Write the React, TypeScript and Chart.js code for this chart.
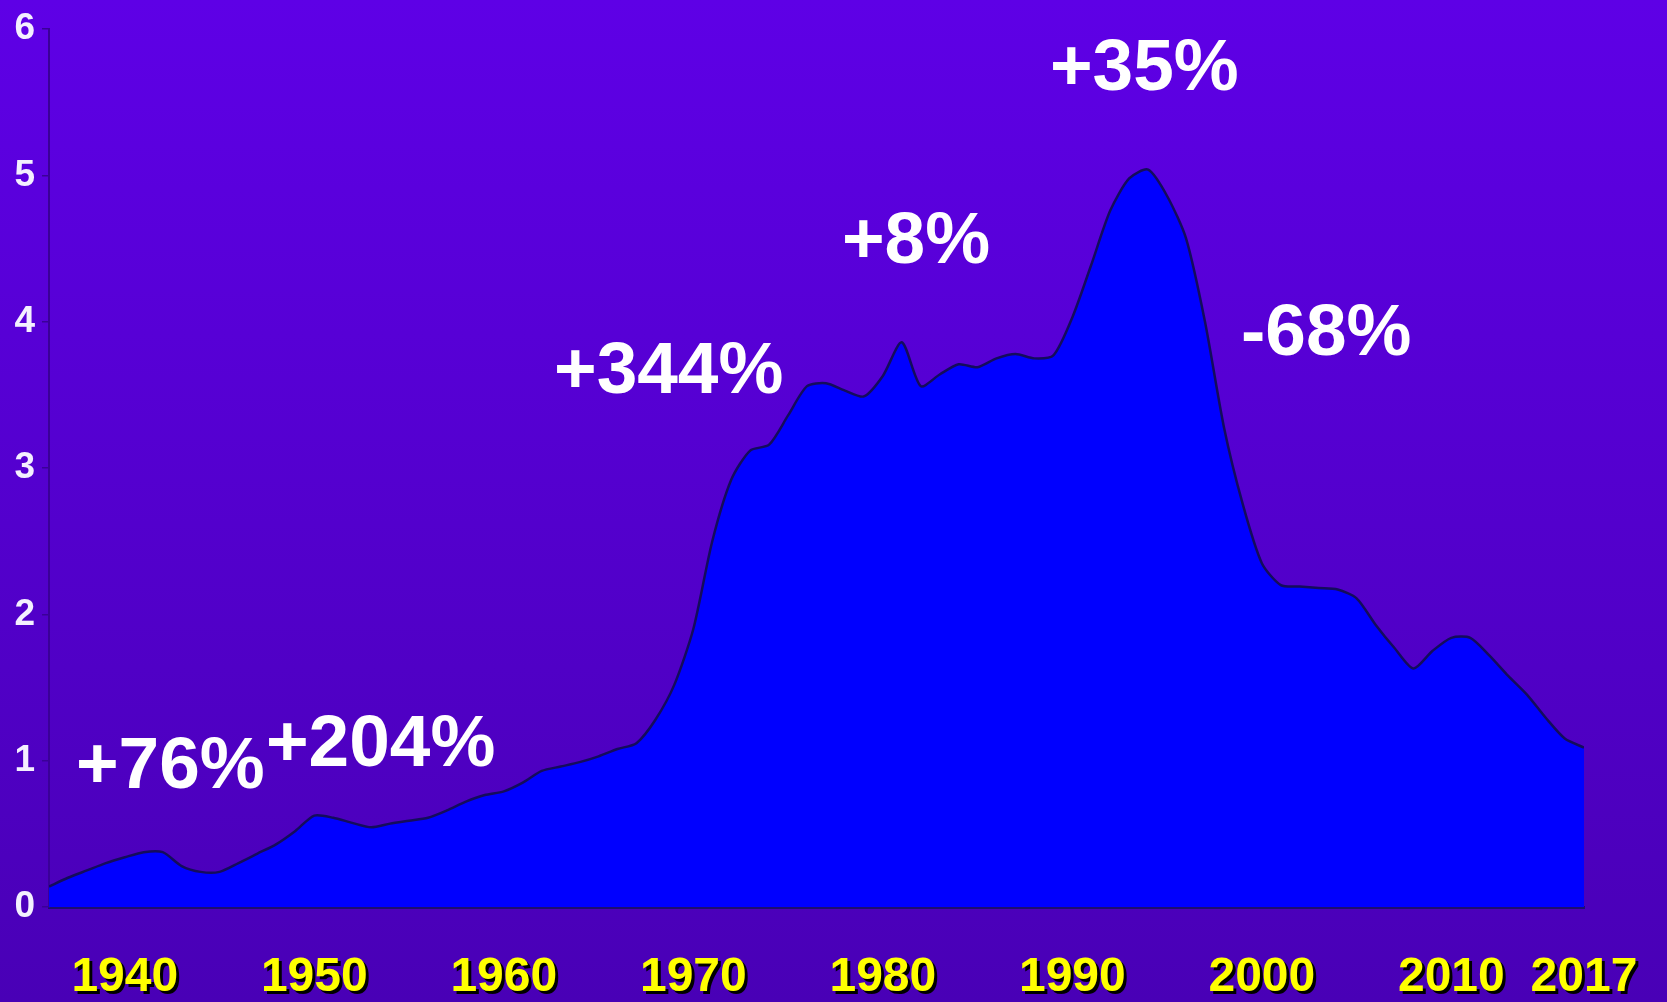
import { useEffect, useRef } from "react";
import { Chart, registerables } from "chart.js";

Chart.register(...registerables);

const years = [
  1936, 1937, 1938, 1939, 1940, 1941, 1942, 1943, 1944, 1945,
  1946, 1947, 1948, 1949, 1950, 1951, 1952, 1953, 1954, 1955,
  1956, 1957, 1958, 1959, 1960, 1961, 1962, 1963, 1964, 1965,
  1966, 1967, 1968, 1969, 1970, 1971, 1972, 1973, 1974, 1975,
  1976, 1977, 1978, 1979, 1980, 1981, 1982, 1983, 1984, 1985,
  1986, 1987, 1988, 1989, 1990, 1991, 1992, 1993, 1994, 1995,
  1996, 1997, 1998, 1999, 2000, 2001, 2002, 2003, 2004, 2005,
  2006, 2007, 2008, 2009, 2010, 2011, 2012, 2013, 2014, 2015,
  2016, 2017,
];

const values = [
  0.14, 0.2, 0.25, 0.3, 0.34, 0.375, 0.375, 0.28, 0.24, 0.24,
  0.3, 0.365, 0.43, 0.52, 0.625, 0.61, 0.575, 0.545, 0.57, 0.59,
  0.61, 0.66, 0.72, 0.765, 0.79, 0.85, 0.93, 0.96, 0.99, 1.03,
  1.08, 1.12, 1.28, 1.52, 1.9, 2.5, 2.92, 3.12, 3.16, 3.36,
  3.56, 3.58, 3.53, 3.49, 3.63, 3.86, 3.56, 3.64, 3.71, 3.69,
  3.75, 3.78, 3.75, 3.77, 4.03, 4.39, 4.76, 4.98, 5.04, 4.86,
  4.57, 4.0, 3.28, 2.75, 2.35, 2.2, 2.19, 2.18, 2.17, 2.11,
  1.93, 1.77, 1.63, 1.75, 1.84, 1.84, 1.72, 1.58, 1.45, 1.29,
  1.15, 1.09,
];

const xTickYears = [1940, 1950, 1960, 1970, 1980, 1990, 2000, 2010, 2017];
const yMin = 0;
const yMax = 6;

const annotationTexts = ["+76%", "+204%", "+344%", "+8%", "+35%", "-68%"];
const annotationYears = [1942.4, 1953.5, 1968.7, 1981.75, 1993.8, 2003.4];
const annotationValues = [0.95, 1.1, 3.65, 4.54, 5.72, 3.91];

const FONT = '"Liberation Sans", Arial, sans-serif';

const xLabelShadowPlugin = {
  id: "xLabelShadow",
  beforeDraw(chart: any) {
    const sc: any = chart.scales.x;
    if (!sc || sc.__shadowed) return;
    const orig = sc.drawLabels.bind(sc);
    sc.drawLabels = (area: any) => {
      const ctx = chart.ctx;
      ctx.save();
      ctx.shadowColor = "#000000";
      ctx.shadowOffsetX = 3;
      ctx.shadowOffsetY = 3;
      ctx.shadowBlur = 0;
      orig(area);
      ctx.restore();
    };
    sc.__shadowed = true;
  },
};

const annotationPlugin = {
  id: "pctAnnotations",
  afterDatasetsDraw(chart: any) {
    const ctx = chart.ctx;
    const xs = chart.scales.x;
    const ys = chart.scales.y;
    ctx.save();
    ctx.font = `bold 73px ${FONT}`;
    ctx.fillStyle = "#ffffff";
    ctx.textAlign = "center";
    ctx.textBaseline = "middle";
    annotationTexts.forEach((t, i) => {
      ctx.fillText(
        t,
        xs.getPixelForValue(annotationYears[i]),
        ys.getPixelForValue(annotationValues[i])
      );
    });
    ctx.restore();
  },
};

export default function App() {
  const canvasRef = useRef<HTMLCanvasElement | null>(null);

  useEffect(() => {
    if (!canvasRef.current) return;
    const lastYear = years[years.length - 1];
    const lastValue = values[values.length - 1];
    const chart = new Chart(canvasRef.current, {
      type: "line",
      data: {
        datasets: [
          {
            data: years.map((y, i) => ({ x: y, y: values[i] })),
            borderColor: "#140c5c",
            borderWidth: 2.5,
            backgroundColor: "#0000ff",
            fill: "origin",
            pointRadius: 0,
            tension: 0.25,
          },
          {
            data: [
              { x: lastYear, y: 0 },
              { x: lastYear, y: lastValue },
            ],
            borderColor: "#140c5c",
            borderWidth: 2.5,
            fill: false,
            pointRadius: 0,
          },
        ],
      },
      options: {
        responsive: false,
        devicePixelRatio: 1,
        animation: false,
        events: [],
        layout: { padding: { top: 23.5, right: 83, left: 0, bottom: 0 } },
        plugins: {
          legend: { display: false },
          tooltip: { enabled: false },
        },
        scales: {
          x: {
            type: "linear",
            min: years[0],
            max: lastYear,
            afterBuildTicks: (scale: any) => {
              scale.ticks = xTickYears.map((v) => ({ value: v }));
            },
            afterFit: (scale: any) => {
              scale.height = 95;
              scale.paddingLeft = 0;
              scale.paddingRight = 0;
            },
            grid: { display: false, drawTicks: false },
            border: { display: true, color: "#1c0f70", width: 3 },
            ticks: {
              autoSkip: false,
              maxRotation: 0,
              padding: 42,
              color: "#ffff00",
              font: { family: FONT, size: 48, weight: "bold" },
              callback: (v: any) => String(v),
            },
          },
          y: {
            min: yMin,
            max: yMax,
            afterFit: (scale: any) => {
              scale.width = 49;
            },
            grid: {
              display: true,
              drawOnChartArea: false,
              drawTicks: true,
              tickLength: 7,
              color: "#3a0098",
              lineWidth: 1.5,
            },
            border: { display: true, color: "#3a0098", width: 2 },
            ticks: {
              stepSize: 1,
              padding: 7,
              color: "#f4f0ff",
              font: { family: FONT, size: 37, weight: "bold" },
            },
          },
        },
      },
      plugins: [xLabelShadowPlugin, annotationPlugin],
    } as any);
    return () => chart.destroy();
  }, []);

  return (
    <div
      style={{
        position: "fixed",
        left: 0,
        top: 0,
        width: 1667,
        height: 1002,
        background: "linear-gradient(to bottom, #5e00e6, #4900b6)",
      }}
    >
      <canvas ref={canvasRef} width={1667} height={1002} style={{ display: "block" }} />
    </div>
  );
}
